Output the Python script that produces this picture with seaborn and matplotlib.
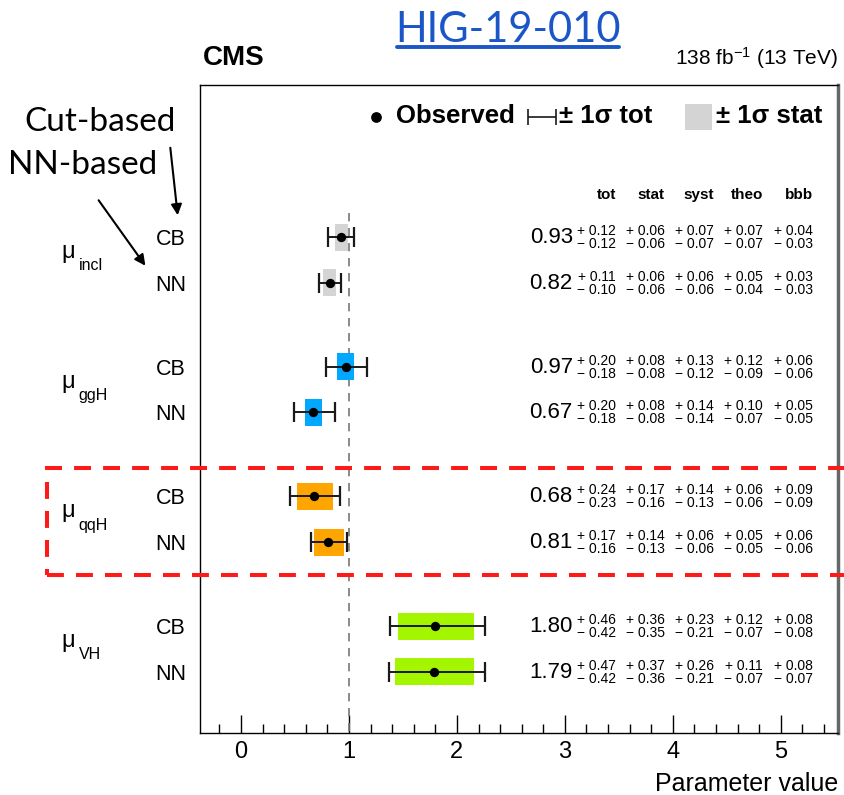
import numpy as np
import pandas as pd
import matplotlib
matplotlib.use("Agg")
import matplotlib.pyplot as plt
import matplotlib.patches as mpatches
from matplotlib.lines import Line2D
import seaborn as sns

# ---------------- data ----------------
pois = ["incl", "ggH", "qqH", "VH"]
methods = ["CB", "NN"]
best = [0.93, 0.82, 0.97, 0.67, 0.68, 0.81, 1.80, 1.79]
tot_up = [0.12, 0.11, 0.20, 0.20, 0.24, 0.17, 0.46, 0.47]
tot_dn = [0.12, 0.10, 0.18, 0.18, 0.23, 0.16, 0.42, 0.42]
stat_up = [0.06, 0.06, 0.08, 0.08, 0.17, 0.14, 0.36, 0.37]
stat_dn = [0.06, 0.06, 0.08, 0.08, 0.16, 0.13, 0.35, 0.36]
syst_up = [0.07, 0.06, 0.13, 0.14, 0.14, 0.06, 0.23, 0.26]
syst_dn = [0.07, 0.06, 0.12, 0.14, 0.13, 0.06, 0.21, 0.21]
theo_up = [0.07, 0.05, 0.12, 0.10, 0.06, 0.05, 0.12, 0.11]
theo_dn = [0.07, 0.04, 0.09, 0.07, 0.06, 0.05, 0.07, 0.07]
bbb_up = [0.04, 0.03, 0.06, 0.05, 0.09, 0.06, 0.08, 0.08]
bbb_dn = [0.03, 0.03, 0.06, 0.05, 0.09, 0.06, 0.08, 0.07]
columns = ["tot", "stat", "syst", "theo", "bbb"]
poi_colors = ["#d4d4d4", "#00a8ff", "#ffa500", "#a3f500"]

# ---------------- style ----------------
sns.set_theme(style="white")
plt.rcParams["font.family"] = ["Liberation Sans", "DejaVu Sans"]
plt.rcParams["mathtext.fontset"] = "custom"
plt.rcParams["mathtext.rm"] = "Liberation Sans"
plt.rcParams["mathtext.it"] = "Liberation Sans:italic"
plt.rcParams["mathtext.bf"] = "Liberation Sans:bold"
for key in ["text.color", "axes.labelcolor", "xtick.color", "ytick.color"]:
    plt.rcParams[key] = "black"

W, H = 845, 795
fig = plt.figure(figsize=(W / 100, H / 100), dpi=100)
fig.patch.set_facecolor("white")
ax = fig.add_axes([200 / W, 1 - 733 / H, (838 - 200) / W, (733 - 85) / H])
ax.set_facecolor("white")

gidx = np.repeat(np.arange(len(pois)), len(methods))
midx = np.tile(np.arange(len(methods)), len(pois))
ypos = 237 + gidx * 129.7 + midx * 45.7

df = pd.DataFrame({
    "poi": np.array(pois)[gidx],
    "method": np.array(methods)[midx],
    "best": best, "y": ypos,
    "tot_up": tot_up, "tot_dn": tot_dn,
    "stat_up": stat_up, "stat_dn": stat_dn,
})
df["color"] = np.array(poi_colors)[gidx]

ax.set_xlim(-0.38, 5.53)
ax.set_ylim(733, 85)

# reference line at 1
ax.vlines(1, 213, 733, colors="#777777", linestyles=(0, (5, 4)), lw=1.2, zorder=1)

# stat boxes, total error bars, observed points
ax.barh(df["y"], df["stat_dn"] + df["stat_up"], left=df["best"] - df["stat_dn"],
        height=27, color=df["color"], edgecolor="none", zorder=2)
ax.errorbar(df["best"], df["y"], xerr=[df["tot_dn"], df["tot_up"]], fmt="none",
            ecolor="#1a1a1a", elinewidth=1.4, capsize=7, capthick=1.6, zorder=3)
sns.scatterplot(data=df, x="best", y="y", color="black", s=45, edgecolor="black",
                linewidth=0, zorder=5, ax=ax, legend=False)

# table of values
col_right = [3.472, 3.926, 4.380, 4.833, 5.296]
ups = [tot_up, stat_up, syst_up, theo_up, bbb_up]
dns = [tot_dn, stat_dn, syst_dn, theo_dn, bbb_dn]
for c, xr in zip(columns, col_right):
    ax.text(xr, 195, c, ha="right", va="center", fontsize=11, fontweight="bold")
for i, y in enumerate(ypos):
    ax.text(3.074, y + 0.5, f"{best[i]:.2f}", ha="right", va="center", fontsize=16)
    for k, xr in enumerate(col_right):
        ax.text(xr, y - 6, f"+ {ups[k][i]:.2f}", ha="right", va="center", fontsize=10)
        ax.text(xr, y + 7, f"\u2212 {dns[k][i]:.2f}", ha="right", va="center", fontsize=10)

# legend inside frame
ax.scatter([1.25], [117], s=45, color="black", zorder=5)
ax.text(1.435, 116, "Observed", ha="left", va="center", fontsize=18.5, fontweight="bold")
ax.errorbar([2.787], [117], xerr=[[0.13], [0.13]], fmt="none", ecolor="#1a1a1a",
            elinewidth=1.2, capsize=6, capthick=1.2)
ax.text(2.944, 116, "\u00b1 1\u03c3 tot", ha="left", va="center", fontsize=18.5,
        fontweight="bold")
ax.barh([117], [0.25], left=4.111, height=26, color="#d4d4d4", edgecolor="none")
ax.text(4.398, 116, "\u00b1 1\u03c3 stat", ha="left", va="center", fontsize=18.5,
        fontweight="bold")

# axes
ax.set_yticks(ypos)
ax.set_yticklabels(df["method"], fontsize=15.5)
ax.tick_params(axis="y", length=0, pad=10)
ax.set_xticks(range(0, 6))
ax.set_xticks(np.arange(-0.2, 5.53, 0.2), minor=True)
ax.tick_params(axis="x", which="major", direction="in", length=13, width=1,
               labelsize=17, pad=6, bottom=True, top=False, color="black")
ax.tick_params(axis="x", which="minor", direction="in", length=6.5, width=1,
               bottom=True, top=False, color="black")
ax.set_xlabel("Parameter value", loc="right", fontsize=18, labelpad=6)
ax.set_ylabel("")
for s in ["left", "top", "bottom"]:
    ax.spines[s].set_color("black")
    ax.spines[s].set_linewidth(1)
ax.spines["right"].set_color("#666666")
ax.spines["right"].set_linewidth(2.5)

# POI labels
for g, p in enumerate(pois):
    yc = (ypos[2 * g] + ypos[2 * g + 1]) / 2
    ax.text(-1.66, yc - 8, "\u03bc", ha="left", va="center", fontsize=17, clip_on=False)
    ax.text(-1.505, yc + 6, p, ha="left", va="center", fontsize=11.5, clip_on=False)

# figure texts
fig.text(203 / W, 1 - 58 / H, "CMS", ha="left", va="center", fontsize=20,
         fontweight="bold")
fig.text(838 / W, 1 - 58 / H, r"138 fb$^{-1}$ (13 TeV)", ha="right", va="center",
         fontsize=15)
fig.text(508 / W, 1 - 30 / H, "HIG-19-010", ha="center", va="center", fontsize=30,
         color="#1a56c8", family=["Lato", "DejaVu Sans"])
fig.add_artist(Line2D([397 / W, 619 / W], [1 - 47 / H, 1 - 47 / H], color="#1a56c8",
                      lw=2.8, transform=fig.transFigure))

fig.text(100 / W, 1 - 122 / H, "Cut-based", ha="center", va="center", fontsize=24,
         family=["Lato", "DejaVu Sans"])
fig.text(83 / W, 1 - 165 / H, "NN-based", ha="center", va="center", fontsize=24,
         family=["Lato", "DejaVu Sans"])
ax.annotate("", xy=(178, H - 218), xytext=(170, H - 145), xycoords="figure pixels",
            textcoords="figure pixels",
            arrowprops=dict(arrowstyle="-|>", color="black", lw=1.5, mutation_scale=16))
ax.annotate("", xy=(147, H - 268), xytext=(97, H - 198), xycoords="figure pixels",
            textcoords="figure pixels",
            arrowprops=dict(arrowstyle="-|>", color="black", lw=1.5, mutation_scale=16))

# red dashed highlight box
fig.add_artist(mpatches.Rectangle((47 / W, 1 - 575 / H), 1.2, (575 - 468) / H,
                                  transform=fig.transFigure, fill=False,
                                  edgecolor="#ff1a1a", lw=2.9,
                                  linestyle=(0, (4.2, 3)), clip_on=False))

fig.savefig("out.png", dpi=100)
